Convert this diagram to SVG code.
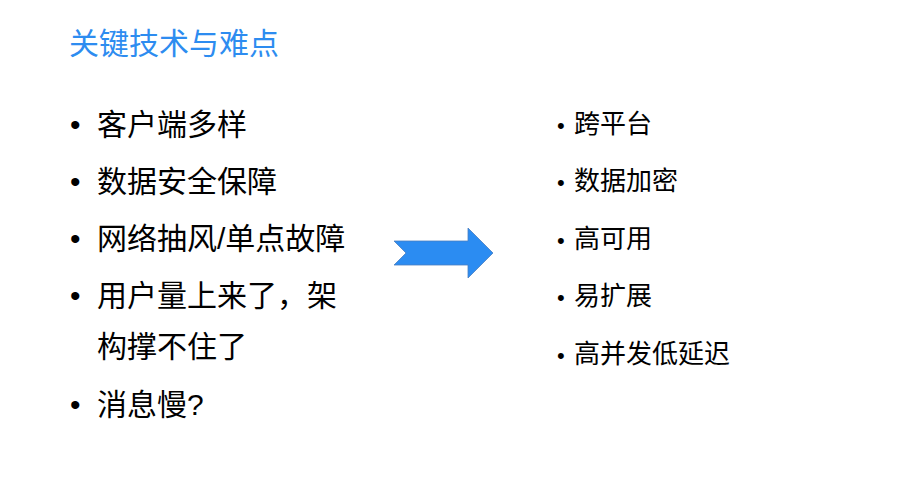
<svg xmlns="http://www.w3.org/2000/svg" width="912" height="499" viewBox="0 0 912 499">
<style>
text{font-family:"Liberation Sans","Noto Sans CJK SC",sans-serif;fill:#000}
.t{fill:#2d8cf0;font-size:30px}
.l{font-size:30px}
.r{font-size:26px}
.d{font-size:22px}
</style>
<rect width="912" height="499" fill="#fff"/>
<g id="title"><text class="t" x="69" y="54">关键技术与难点</text></g>
<g id="left">
<text class="l" x="70" y="135">•</text><text class="l" x="97" y="135">客户端多样</text>
<text class="l" x="70" y="192">•</text><text class="l" x="97" y="192">数据安全保障</text>
<text class="l" x="70" y="249">•</text><text class="l" x="97" y="249">网络抽风/单点故障</text>
<text class="l" x="70" y="306">•</text><text class="l" x="97" y="306">用户量上来了，架</text>
<text class="l" x="97" y="357">构撑不住了</text>
<text class="l" x="70" y="415">•</text><text class="l" x="97" y="415">消息慢?</text>
</g>
<g id="arrow"><polygon points="394,241 468,241 468,228 493,253 468,278 468,265 394,265 406,253" fill="#2b8cf2" stroke="#4a7fc0" stroke-width="0.8"/></g>
<g id="right">
<text class="d" x="557" y="133">•</text><text class="r" x="574" y="133">跨平台</text>
<text class="d" x="557" y="190">•</text><text class="r" x="574" y="190">数据加密</text>
<text class="d" x="557" y="248">•</text><text class="r" x="574" y="248">高可用</text>
<text class="d" x="557" y="305">•</text><text class="r" x="574" y="305">易扩展</text>
<text class="d" x="557" y="363">•</text><text class="r" x="574" y="363">高并发低延迟</text>
</g>
</svg>
